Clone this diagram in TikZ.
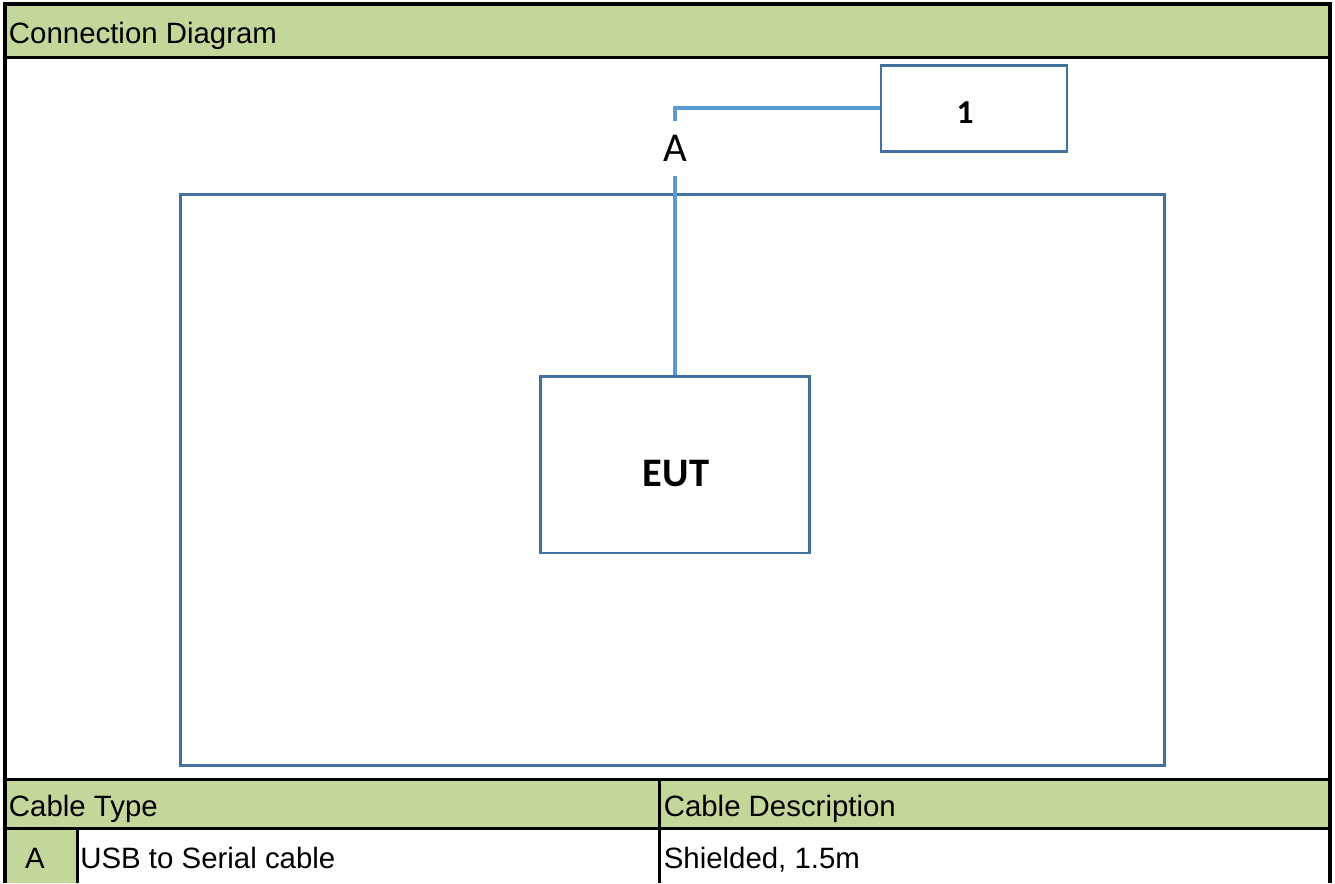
\documentclass[tikz,border=0pt]{standalone}
\usepackage{fontspec}
\setmainfont{Liberation Sans}
\newfontfamily\calfont{Carlito}
\definecolor{hdrgreen}{RGB}{196,215,155}
\definecolor{boxblue}{RGB}{65,113,156}
\definecolor{cableblue}{RGB}{91,155,213}
\tikzset{
  frame/.style={black, line width=3.6pt},
  grid/.style={black, line width=2.7pt},
  cell/.style={fill=hdrgreen, draw=none},
  celltext/.style={anchor=base west, inner sep=0pt, font=\fontsize{29.4}{34}\selectfont},
  devbox/.style={draw=boxblue, line width=2.8pt, fill=none, inner sep=0pt},
  cable/.style={draw=cableblue, line width=3.9pt},
  boldlabel/.style={anchor=base, inner sep=0pt, font=\calfont\bfseries\fontsize{#1}{#1}\selectfont},
}
\begin{document}
\begin{tikzpicture}[x=1pt,y=-1pt]
\useasboundingbox (0,0) rectangle (1335,883);
\fill[white] (0,0) rectangle (1335,883);
% green cells
\fill[cell] (6,5) rectangle (1329,57);
\fill[cell] (6,779) rectangle (1329,829);
\fill[cell] (6,829) rectangle (78,883);
% table lines
\draw[frame] (3.5,4.3) -- (1332,4.3);
\draw[frame] (5.2,2.5) -- (5.2,883);
\draw[frame, line width=4pt] (1330.3,2.5) -- (1330.3,883);
\draw[grid] (5,57.2) -- (1330,57.2);
\draw[grid, line width=3pt] (5,779.3) -- (1330,779.3);
\draw[grid] (5,828.8) -- (1330,828.8);
\draw[grid] (659.5,779) -- (659.5,883);
\draw[grid] (77.8,829) -- (77.8,883);
% texts of the table
\node[celltext] (title) at (8.8,43.8) {Connection Diagram};
\node[celltext] (ctype) at (8.8,816.4) {Cable Type};
\node[celltext] (cdesc) at (663.6,816.4) {Cable Description};
\node[celltext] (rowid) at (24.8,868.3) {A};
\node[celltext] (rowtype) at (80.2,868.3) {USB to Serial cable};
\node[celltext] (rowdesc) at (663.6,868.3) {Shielded, 1.5m};
% diagram
\node[devbox, minimum width=984pt, minimum height=570.6pt] (area) at (672.7,480) {};
\node[devbox, minimum width=269.4pt, minimum height=176.7pt] (eut) at (675,464.7) {};
\node[boldlabel=40.5] (euttext) at (676,486.7) {EUT};
\node[devbox, minimum width=186pt, minimum height=86.2pt] (box1) at (974,108.4) {};
\node[boldlabel=33.5] (box1text) at (965,123.3) {1};
\node[inner sep=0pt, minimum height=55.3pt, font=\calfont\fontsize{41}{41}\selectfont] (alab) at (675,148.4) {A};
\draw[cable] (eut.north) -- (alab.south);
\draw[cable] (alab.north) |- (box1.west);
\end{tikzpicture}
\end{document}
